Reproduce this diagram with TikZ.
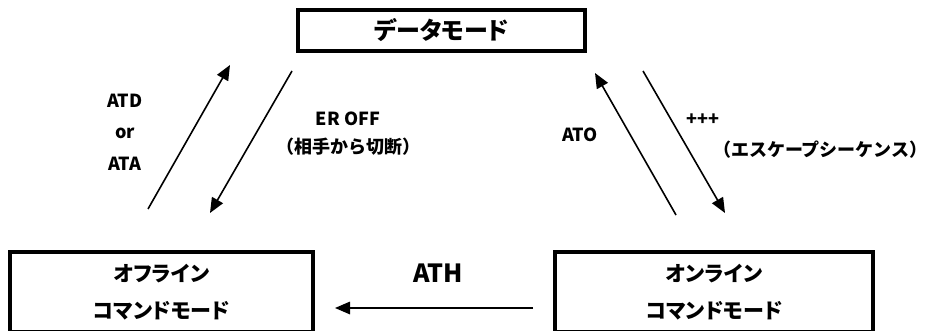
\documentclass[tikz,border=0pt]{standalone}
\usepackage{fontspec}
\setmainfont{Noto Sans CJK JP}
\newfontfamily\jpp{Noto Sans CJK JP}[RawFeature=+palt]
\usetikzlibrary{arrows.meta}
\tikzset{
  box/.style={draw, line width=4pt, inner sep=0pt, font=\jpp\bfseries\fontsize{21}{37}\selectfont, align=center},
  lbl/.style={inner sep=0pt, font=\bfseries\fontsize{18}{30}\selectfont, align=center},
  arr/.style={line width=1.6pt, -{Triangle[length=15pt,width=12.5pt]}},
}
\begin{document}
\begin{tikzpicture}[x=1pt,y=-1pt]
\useasboundingbox (0,0) rectangle (931,331);
\clip (0,0) rectangle (931,331);
\node[box, minimum width=287pt, minimum height=41pt, font=\jpp\bfseries\fontsize{24}{30}\selectfont] (data) at (441.5,30.5) {データモード};
\node[box, minimum width=303pt, minimum height=79.5pt] (off) at (161.5,291.75) {オフライン\\コマンドモード};
\node[box, minimum width=318pt, minimum height=79.5pt] (on) at (714,291.75) {オンライン\\コマンドモード};
% endpoints
\coordinate (atdS) at (148,209); \coordinate (atdE) at (230,65);
\coordinate (erS) at (292,71);   \coordinate (erE) at (210,213);
\coordinate (atoS) at (676,215); \coordinate (atoE) at (595,73);
\coordinate (escS) at (643,71);  \coordinate (escE) at (725,213);
\coordinate (athS) at (533,308); \coordinate (athE) at (335,308);
\draw[arr] (atdS) -- (atdE);
\draw[arr] (erS) -- (erE);
\draw[arr] (atoS) -- (atoE);
\draw[arr] (escS) -- (escE);
\draw[arr] (athS) -- (athE);
% labels
\node[lbl, font=\bfseries\fontsize{18}{31.5}\selectfont] (latd) at (125,132) {ATD\\or\\ATA};
\node[lbl, font=\bfseries\fontsize{18}{28}\selectfont] (ler) at (348,134) {ER OFF\\（相手から切断）};
\node[lbl] (lato) at (580,135) {ATO};
\node[lbl] (lplus) at (703,120) {+++};
\node[lbl] (lesc) at (820,150) {（エスケープシーケンス）};
\node[lbl, font=\bfseries\fontsize{25}{30}\selectfont] (lath) at (438,273) {ATH};
\end{tikzpicture}
\end{document}
